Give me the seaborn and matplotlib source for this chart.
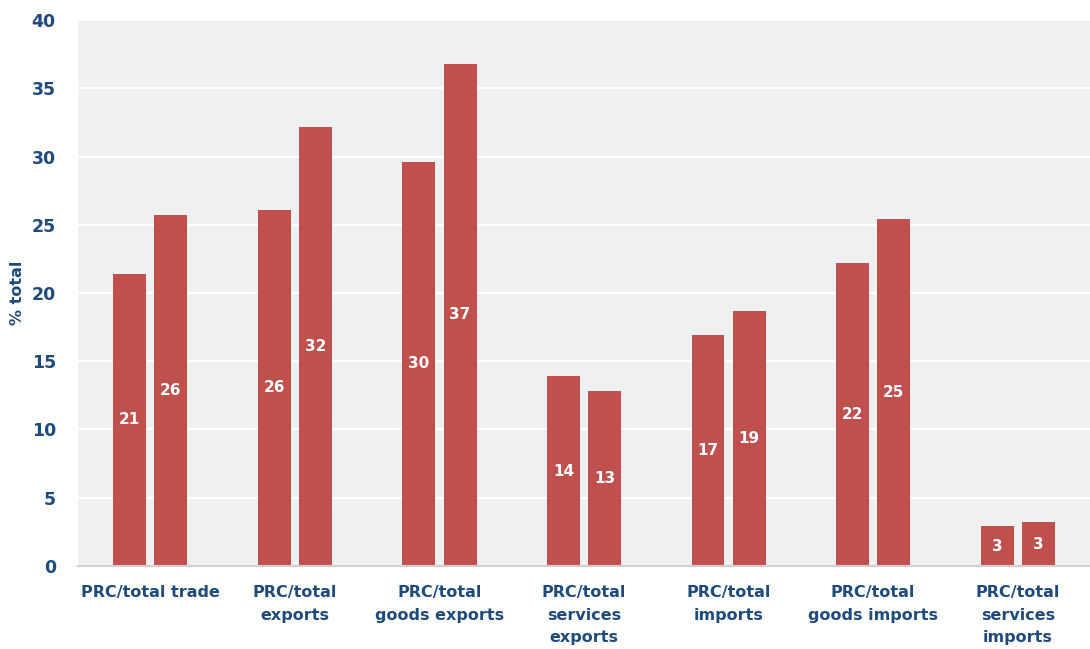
import matplotlib
matplotlib.use("Agg")
import matplotlib.pyplot as plt
import seaborn as sns
import pandas as pd

categories = [
    "PRC/total trade",
    "PRC/total\nexports",
    "PRC/total\ngoods exports",
    "PRC/total\nservices\nexports",
    "PRC/total\nimports",
    "PRC/total\ngoods imports",
    "PRC/total\nservices\nimports",
]
series_names = ["first", "second"]
first_values = [21.4, 26.1, 29.6, 13.9, 16.9, 22.2, 2.9]
second_values = [25.7, 32.2, 36.8, 12.8, 18.7, 25.4, 3.2]
y_ticks = [0, 5, 10, 15, 20, 25, 30, 35, 40]

bar_color = "#C0504D"
text_color = "#1F4A7C"

df = pd.DataFrame({
    "category": categories * 2,
    "series": [series_names[0]] * len(categories) + [series_names[1]] * len(categories),
    "value": first_values + second_values,
})

sns.set_theme(style="white")
plt.rcParams["font.family"] = ["DejaVu Sans"]

fig = plt.figure(figsize=(10.9, 6.49), dpi=100)
ax = fig.add_axes([0.0716, 0.128, 0.9284, 0.841])
ax.set_facecolor("#F0F0F0")

sns.barplot(data=df, x="category", y="value", hue="series", order=categories,
            hue_order=series_names, palette=[bar_color, bar_color],
            width=0.57, gap=0.2, legend=False, ax=ax, linewidth=0, saturation=1)

for cont in ax.containers:
    vals = [bar.get_height() for bar in cont]
    ax.bar_label(cont, labels=[f"{v:.0f}" for v in vals], label_type="center",
                 color="white", fontsize=11, fontweight="bold")

ax.set_ylim(0, 40)
ax.set_xlim(-0.5, len(categories) - 0.5)
ax.set_yticks(y_ticks)
ax.yaxis.grid(True, color="white", linewidth=1.6)
ax.set_axisbelow(True)
for side in ["top", "right", "left"]:
    ax.spines[side].set_visible(False)
ax.spines["bottom"].set_color("#D0D0D0")
ax.spines["bottom"].set_linewidth(1.5)

ax.tick_params(axis="y", length=0, pad=16, labelsize=12.5, labelcolor=text_color)
ax.tick_params(axis="x", length=0, pad=14, labelsize=11.5, labelcolor=text_color)
for lab in ax.get_yticklabels():
    lab.set_fontweight("bold")
for lab in ax.get_xticklabels():
    lab.set_fontweight("bold")
    lab.set_linespacing(1.6)
ax.set_xlabel("")
ax.set_ylabel("% total", color=text_color, fontsize=11.5, fontweight="bold")
ax.yaxis.set_label_coords(-0.052, 0.5)

fig.savefig("out.png", dpi=100)
